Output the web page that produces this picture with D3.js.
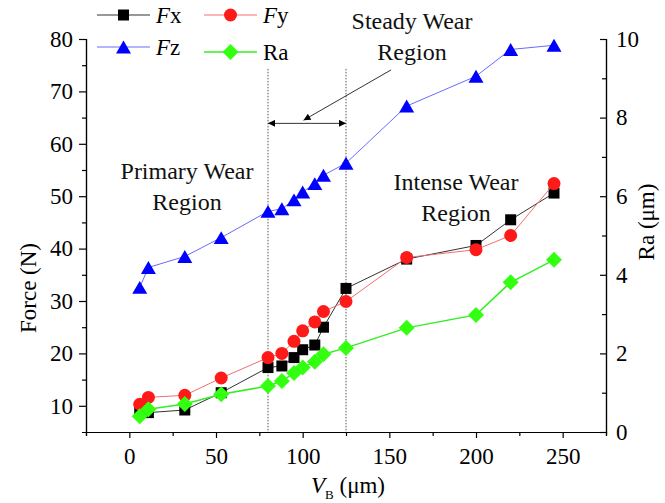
<!DOCTYPE html>
<html>
<head>
<meta charset="utf-8">
<script src="https://cdn.jsdelivr.net/npm/d3@7"></script>
<style>
  html, body { margin: 0; padding: 0; background: #fff; }
  svg { display: block; font-family: "Liberation Serif", "Times New Roman", serif; }
</style>
</head>
<body>
<svg id="chart" width="665" height="503"></svg>
<script>
// Flank wear V_B (µm) and the measured cutting forces / surface roughness
const wearVB = [6, 11, 32, 53, 80, 88, 95, 100, 107, 112, 125, 160, 200, 220, 245];
const forceFx = [8.9, 8.7, 9.2, 12.5, 17.3, 17.6, 19.2, 20.7, 21.6, 25.0, 32.4, 38.0, 40.6, 45.5, 50.6];
const forceFy = [10.3, 11.6, 12.0, 15.3, 19.2, 20.0, 22.3, 24.3, 26.0, 28.0, 29.9, 38.3, 39.8, 42.5, 52.4];
const forceFz = [32.6, 36.4, 38.5, 42.1, 47.1, 47.6, 49.3, 50.8, 52.4, 54.0, 56.3, 67.2, 72.9, 78.0, 78.8];
const roughRa = [0.4, 0.58, 0.71, 0.96, 1.17, 1.3, 1.5, 1.64, 1.79, 1.98, 2.14, 2.65, 2.98, 3.81, 4.38];

const xTicks = [0, 50, 100, 150, 200, 250];
const forceTicks = [10, 20, 30, 40, 50, 60, 70, 80];
const raTicks = [0, 2, 4, 6, 8, 10];
const regionBounds = [80, 125];

const svg = d3.select("#chart");
const plotL = 86, plotR = 606, plotT = 39, plotB = 432;

const x = d3.scaleLinear().domain([-25, 275]).range([plotL, plotR]);
const yF = d3.scaleLinear().domain([5, 80]).range([plotB, plotT]);
const yR = d3.scaleLinear().domain([0, 10]).range([plotB, plotT]);

const FONT = 23;

// ---- axes ----
function styleAxis(g) {
  g.selectAll("path.domain").attr("stroke", "#000").attr("stroke-width", 1.2);
  g.selectAll(".tick line").attr("stroke", "#000").attr("stroke-width", 1.2);
  g.selectAll("text").attr("fill", "#000").attr("font-size", FONT)
    .attr("font-family", "Liberation Serif, serif");
}

// bottom axis: minor ticks then labelled major ticks
svg.append("g").attr("transform", `translate(0,${plotB})`)
  .call(d3.axisBottom(x).tickValues(d3.range(-25, 276, 50)).tickSize(4).tickFormat(""))
  .call(styleAxis);
svg.append("g").attr("transform", `translate(0,${plotB})`)
  .call(d3.axisBottom(x).tickValues(xTicks).tickSize(6).tickSizeOuter(0).tickPadding(10))
  .call(styleAxis);

// left force axis
svg.append("g").attr("transform", `translate(${plotL},0)`)
  .call(d3.axisLeft(yF).tickValues(d3.range(15, 80, 10)).tickSize(4).tickFormat(""))
  .call(styleAxis);
svg.append("g").attr("transform", `translate(${plotL},0)`)
  .call(d3.axisLeft(yF).tickValues(forceTicks).tickSize(7).tickSizeOuter(0).tickPadding(6))
  .call(styleAxis);

// right roughness axis, ticks pointing inward
svg.append("g").attr("transform", `translate(${plotR},0)`)
  .call(d3.axisRight(yR).tickValues([1, 3, 5, 7, 9]).tickSize(-4).tickFormat(""))
  .call(styleAxis);
svg.append("g").attr("transform", `translate(${plotR},0)`)
  .call(d3.axisRight(yR).tickValues(raTicks).tickSize(-6).tickSizeOuter(0).tickPadding(10))
  .call(styleAxis);

// axis titles
svg.append("text").attr("transform", `translate(36,288) rotate(-90)`)
  .attr("text-anchor", "middle").attr("font-size", FONT).text("Force (N)");
svg.append("text").attr("transform", `translate(654,222) rotate(-90)`)
  .attr("text-anchor", "middle").attr("font-size", FONT).text("Ra (μm)");
const xt = svg.append("text").attr("x", (plotL + plotR) / 2 + 2).attr("y", 493)
  .attr("text-anchor", "middle").attr("font-size", FONT);
xt.append("tspan").attr("font-style", "italic").text("V");
xt.append("tspan").attr("font-size", 13).attr("dy", 6).text("B");
xt.append("tspan").attr("dy", -6).text(" (μm)");

// ---- region boundaries ----
svg.append("g").selectAll("line").data(regionBounds).join("line")
  .attr("x1", d => x(d)).attr("x2", d => x(d))
  .attr("y1", yF(74.3)).attr("y2", plotB)
  .attr("stroke", "#555").attr("stroke-width", 1).attr("stroke-dasharray", "1.5,1.5");

// arrow heads
const defs = svg.append("defs");
defs.append("marker").attr("id", "ah").attr("viewBox", "0 0 10 10")
  .attr("refX", 10).attr("refY", 5).attr("markerWidth", 10).attr("markerHeight", 7)
  .attr("markerUnits", "userSpaceOnUse").attr("orient", "auto-start-reverse")
  .append("path").attr("d", "M0,0 L10,5 L0,10 Z").attr("fill", "#000");

const yArrow = yF(63.9);
svg.append("line")
  .attr("x1", x(regionBounds[0])).attr("x2", x(regionBounds[1]))
  .attr("y1", yArrow).attr("y2", yArrow)
  .attr("stroke", "#333").attr("stroke-width", 1)
  .attr("marker-start", "url(#ah)").attr("marker-end", "url(#ah)");
svg.append("line")
  .attr("x1", x(151)).attr("y1", yF(74.1))
  .attr("x2", x(100.5)).attr("y2", yF(64.5))
  .attr("stroke", "#333").attr("stroke-width", 1)
  .attr("marker-end", "url(#ah)");

// region labels
function label(lines, cx, y0) {
  const t = svg.append("text").attr("text-anchor", "middle").attr("font-size", 24).attr("fill", "#111");
  lines.forEach((s, i) => t.append("tspan").attr("x", cx).attr("y", y0 + i * 31).text(s));
}
label(["Steady Wear", "Region"], 412, 29);
label(["Primary Wear", "Region"], 187, 179);
label(["Intense Wear", "Region"], 456, 190);

// ---- marker shapes (centred on their bounding box) ----
const shapes = {
  square: s => `M${-s/2},${-s/2}h${s}v${s}h${-s}Z`,
  circle: s => `M${s/2},0A${s/2},${s/2} 0 1,1 ${-s/2},0A${s/2},${s/2} 0 1,1 ${s/2},0Z`,
  triangle: s => `M0,${-s*0.43}L${s/2},${s*0.43}L${-s/2},${s*0.43}Z`,
  diamond: s => `M0,${-s/2}L${s/2},0L0,${s/2}L${-s/2},0Z`
};

const series = [
  { name: "Fx", values: forceFx, y: yF, line: "#333", lw: 1, fill: "#000", shape: "square", size: 11 },
  { name: "Fy", values: forceFy, y: yF, line: "#f07070", lw: 1, fill: "#ff1a1a", shape: "circle", size: 13 },
  { name: "Fz", values: forceFz, y: yF, line: "#6a6aff", lw: 1, fill: "#0000ff", shape: "triangle", size: 15 },
  { name: "Ra", values: roughRa, y: yR, line: "#33ee22", lw: 1.5, fill: "#33ff11", shape: "diamond", size: 16 }
];

series.forEach(s => {
  const pts = wearVB.map((v, i) => [v, s.values[i]]);
  const g = svg.append("g");
  g.append("path").datum(pts)
    .attr("fill", "none").attr("stroke", s.line).attr("stroke-width", s.lw)
    .attr("d", d3.line().x(d => x(d[0])).y(d => s.y(d[1])));
  g.selectAll("path.pt").data(pts).join("path").attr("class", "pt")
    .attr("transform", d => `translate(${x(d[0])},${s.y(d[1])})`)
    .attr("d", shapes[s.shape](s.size)).attr("fill", s.fill);
});

// ---- legend ----
const legendPos = { Fx: [97, 15], Fy: [204, 15], Fz: [97, 47], Ra: [204, 52] };
series.forEach(s => {
  const [lx, ly] = legendPos[s.name];
  const g = svg.append("g").attr("transform", `translate(${lx},${ly})`);
  g.append("line").attr("x1", 0).attr("x2", 53).attr("stroke", s.line).attr("stroke-width", s.lw);
  g.append("path").attr("transform", "translate(26.5,0)").attr("d", shapes[s.shape](s.size)).attr("fill", s.fill);
  const t = g.append("text").attr("x", 59).attr("y", 8).attr("font-size", FONT);
  if (s.name === "Ra") {
    t.text("Ra");
  } else {
    t.append("tspan").attr("font-style", "italic").text("F");
    t.append("tspan").text(s.name.slice(1));
  }
});
</script>
</body>
</html>
